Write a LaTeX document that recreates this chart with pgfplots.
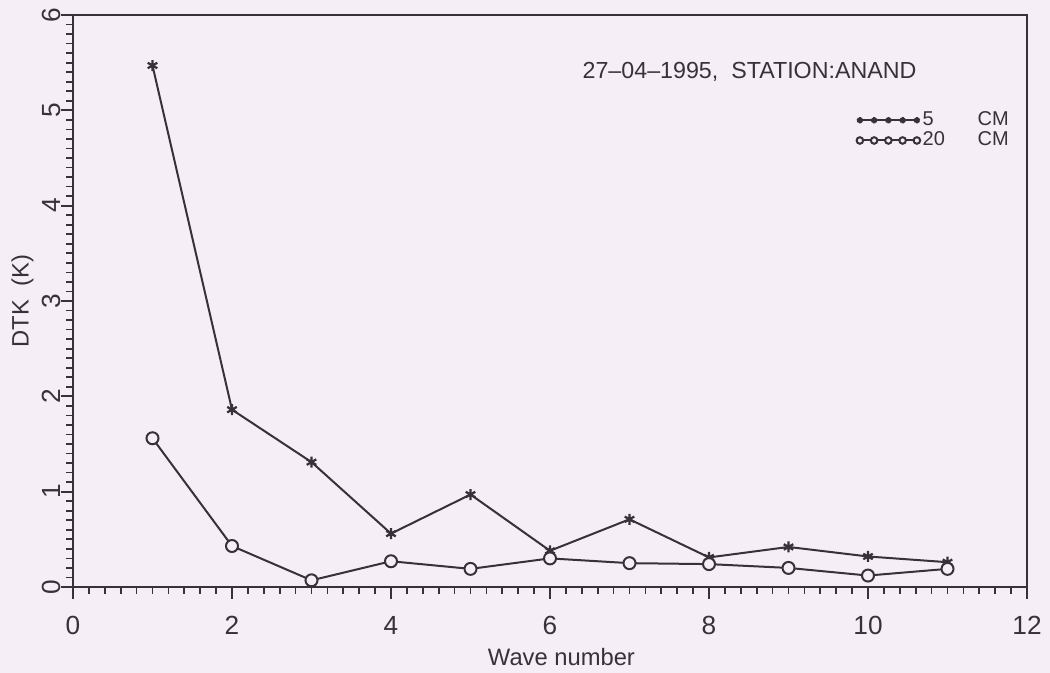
\documentclass[border=0pt]{standalone}
\usepackage{fontspec}
\setmainfont{Liberation Sans}
\usepackage{pgfplots}
\pgfplotsset{compat=1.18}
\definecolor{bg}{RGB}{246,238,246}
\definecolor{ink}{RGB}{55,50,55}
\begin{document}
\begin{tikzpicture}[x=1pt,y=1pt]
\fill[bg] (-29.2,-34.4) rectangle (390.8,234.8);
\useasboundingbox (-29.2,-34.4) rectangle (390.8,234.8);
\begin{axis}[at={(0,0)}, anchor=south west, scale only axis,
 width=381.6pt, height=228.8pt,
 xmin=0, xmax=12, ymin=0, ymax=6,
 xtick={0,2,...,12}, ytick={0,...,6},
 minor x tick num=9, minor y tick num=9,
 tick align=outside, xtick pos=left, ytick pos=left,
 major tick length=4.8pt, minor tick length=2.8pt,
 axis line style={ink, line width=0.8pt},
 every tick/.style={ink, line width=0.7pt},
 /pgf/number format/assume math mode=true,
 tick label style={font=\fontsize{10.5}{12}\selectfont, text=ink},
 yticklabel style={rotate=90, anchor=south},
 yticklabel shift=-3.5pt,
 xticklabel style={yshift=-3.5pt},
 xlabel={Wave number}, ylabel={DTK\ \ (K)},
 label style={font=\fontsize{9.5}{11}\selectfont, text=ink},
 xlabel style={at={(axis description cs:0.512,-0.122)}, anchor=center},
 ylabel style={at={(axis description cs:-0.053,0.5)}, anchor=center},
 legend style={at={(axis cs:9.85,5.02)}, anchor=north west, draw=none, fill=none,
   font=\fontsize{8}{9}\selectfont, text=ink, row sep=-1pt, inner sep=0pt,
   nodes={inner sep=1pt}, /tikz/every even column/.style={column sep=2pt}},
 legend cell align=left,
 legend image code/.code={\draw[mark repeat=1,#1, every mark/.append style={scale=0.55}] plot coordinates {(0pt,0pt) (5.7pt,0pt) (11.4pt,0pt) (17.1pt,0pt) (22.8pt,0pt)};},
]
\addplot[ink, line width=0.8pt, mark=asterisk, mark size=2.2pt, mark options={line width=0.9pt}]
 coordinates {(1,5.47) (2,1.86) (3,1.31) (4,0.56) (5,0.97) (6,0.38) (7,0.71) (8,0.31) (9,0.42) (10,0.32) (11,0.26)};
\addlegendentry{\makebox[22pt][l]{5}CM}
\addplot[ink, line width=0.8pt, mark=*, mark size=2.4pt, mark options={fill=bg, line width=0.8pt}]
 coordinates {(1,1.56) (2,0.43) (3,0.07) (4,0.27) (5,0.19) (6,0.30) (7,0.25) (8,0.24) (9,0.20) (10,0.12) (11,0.19)};
\addlegendentry{\makebox[22pt][l]{20}CM}
\node[font=\fontsize{9.3}{11}\selectfont, text=ink] at (axis cs:8.51,5.40) {27–04–1995,\ \ STATION:ANAND};
\end{axis}
\end{tikzpicture}
\end{document}
